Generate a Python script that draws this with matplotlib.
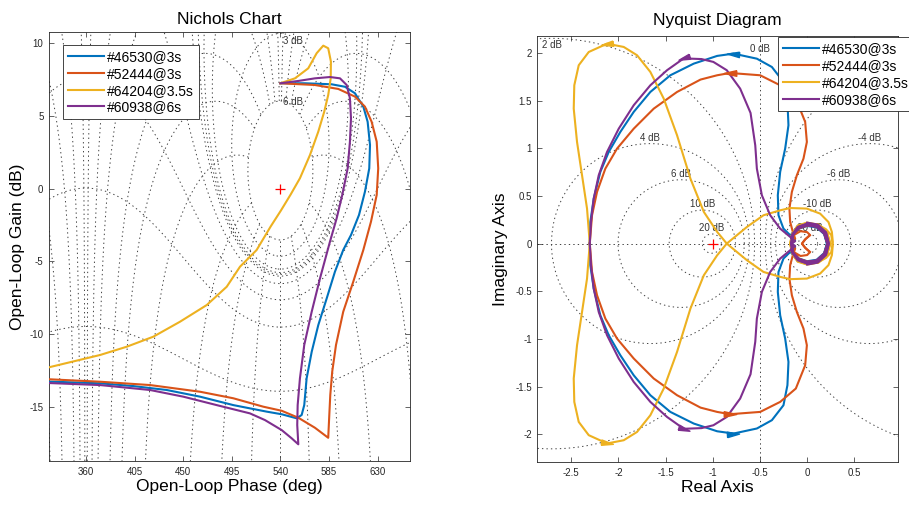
import numpy as np
import matplotlib
matplotlib.use('Agg')
import matplotlib.pyplot as plt

plt.rcParams['font.family'] = ['Liberation Sans', 'DejaVu Sans']
plt.rcParams['axes.unicode_minus'] = False

labels = ['#46530@3s', '#52444@3s', '#64204@3.5s', '#60938@6s']
colors = ['#0072BD', '#D95319', '#EDB120', '#7E2F8E']

# --- Nichols: fase (deg) e ganho (dB) ---
nic_blue_ph = [540, 562.8, 587.5, 599.8, 609.1, 616.8, 620.8, 623.0, 622.3, 618.3, 612.8, 605.4,
               598.2, 590.5, 582.9, 575.1, 569.0, 564.3, 562.1, 559.7, 555.1, 541.2, 527.3, 496.4,
               465.6, 434.7, 403.8, 373.0, 325.5]
nic_blue_db = [7.26, 7.26, 7.19, 7.02, 6.57, 5.65, 4.61, 3.01, 1.40, -0.21, -1.81, -3.19,
               -4.22, -5.72, -7.55, -9.39, -11.23, -13.06, -14.90, -15.58, -15.81, -15.53, -15.35, -14.90,
               -14.32, -13.86, -13.59, -13.40, -13.28]

nic_orange_ph = [540, 572.0, 593.6, 609.1, 618.3, 624.5, 629.2, 630.6, 629.2, 623.9, 616.8, 607.5,
                 598.2, 591.5, 588.0, 586.2, 585.3, 584.3, 572.0, 556.6, 541.2, 524.2, 496.4, 465.6,
                 419.3, 373.0, 325.5]
nic_orange_db = [7.26, 7.14, 6.87, 6.34, 5.65, 4.61, 3.24, 1.40, -0.43, -2.27, -4.22, -6.40,
                 -8.47, -10.76, -12.60, -14.21, -15.58, -17.15, -16.46, -15.77, -15.29, -15.01, -14.43, -13.98,
                 -13.52, -13.29, -13.12]

nic_yellow_ph = [540, 553.5, 565.8, 573.6, 579.7, 584.3, 586.8, 586.6, 584.3, 580.6, 575.1, 567.4,
                 558.1, 549.5, 540.5, 531.0, 518.0, 502.6, 490.3, 471.8, 447.0, 422.3, 397.7, 373.0, 325.5]
nic_yellow_db = [7.26, 7.60, 8.29, 9.33, 9.85, 9.67, 8.75, 7.60, 6.45, 5.30, 3.93, 2.32,
                 0.72, -0.40, -1.50, -2.60, -4.22, -5.37, -6.75, -8.01, -9.16, -10.19, -10.88, -11.45, -12.30]

nic_purple_ph = [540, 556.6, 572.0, 585.9, 595.2, 601.4, 604.4, 605.4, 604.4, 602.3, 597.3, 592.1,
                 585.9, 576.7, 569.0, 562.1, 558.1, 556.0, 555.6, 556.6, 550.5, 541.2, 525.7, 511.8,
                 481.0, 450.1, 419.3, 373.0, 325.5]
nic_purple_db = [7.26, 7.42, 7.60, 7.69, 7.60, 7.14, 6.23, 4.85, 3.24, 1.40, -0.43, -2.04,
                 -3.65, -6.17, -8.47, -10.76, -13.06, -14.90, -16.27, -17.60, -17.19, -16.62, -15.93, -15.47,
                 -14.90, -14.32, -13.86, -13.52, -13.38]

# --- Nyquist: ramo de frequencia positiva (o outro e o conjugado) ---
nyq_blue_re = [-2.304, -2.298, -2.262, -2.192, -2.103, -1.980, -1.838, -1.662, -1.450, -1.202, -0.954,
               -0.781, -0.533, -0.374, -0.251, -0.209, -0.198, -0.233, -0.286, -0.311, -0.304, -0.251,
               -0.180, -0.127, -0.165, -0.150, -0.090, 0.000, 0.100, 0.180, 0.210, 0.180, 0.100, 0.000,
               -0.100, -0.160, -0.175, -0.155, -0.085, 0.010, 0.110, 0.190, 0.225, 0.190, 0.105, 0.000,
               -0.100, -0.165]
nyq_blue_im = [0.0, -0.227, -0.472, -0.752, -0.961, -1.171, -1.381, -1.590, -1.765, -1.887, -1.968,
               -1.992, -1.939, -1.852, -1.695, -1.485, -1.241, -0.996, -0.752, -0.507, -0.298, -0.157,
               -0.088, -0.036, 0.000, 0.085, 0.155, 0.185, 0.170, 0.100, 0.000, -0.110, -0.180, -0.200,
               -0.170, -0.090, 0.000, 0.095, 0.170, 0.200, 0.185, 0.110, 0.000, -0.120, -0.195, -0.215,
               -0.185, -0.100]

nyq_orange_re = [-2.304, -2.280, -2.227, -2.139, -2.015, -1.838, -1.626, -1.379, -1.130, -0.954, -0.817,
                 -0.498, -0.286, -0.120, -0.021, -0.003, -0.039, -0.109, -0.162, -0.188, -0.180, -0.152,
                 -0.127, -0.170, -0.150, -0.085, 0.005, 0.100, 0.180, 0.215, 0.185, 0.105, 0.000, -0.100,
                 -0.155, -0.170, -0.140, -0.070, 0.000, 0.030, -0.020, -0.055, -0.020, 0.030]
nyq_orange_im = [0.0, -0.297, -0.542, -0.786, -0.996, -1.205, -1.415, -1.590, -1.720, -1.765, -1.789,
                 -1.765, -1.660, -1.520, -1.276, -1.066, -0.891, -0.717, -0.542, -0.367, -0.227, -0.123,
                 -0.052, 0.000, 0.090, 0.160, 0.190, 0.180, 0.110, 0.000, -0.110, -0.180, -0.200, -0.170,
                 -0.090, 0.000, 0.090, 0.130, 0.120, 0.090, 0.045, 0.000, -0.045, -0.087]

nyq_yellow_re = [-2.304, -2.333, -2.386, -2.439, -2.474, -2.468, -2.421, -2.315, -2.121, -1.944, -1.803,
                 -1.662, -1.520, -1.379, -1.237, -1.095, -0.954, -0.852, -0.639, -0.463, -0.286, -0.180,
                 -0.003, 0.138, 0.226, 0.262, 0.272, 0.255, 0.200, 0.110, 0.000, -0.100, -0.160, -0.180,
                 -0.160, -0.090, 0.010, 0.120, 0.210, 0.245, 0.210, 0.120, 0.000, -0.100, -0.160, -0.175]
nyq_yellow_im = [0.0, -0.367, -0.717, -1.066, -1.415, -1.660, -1.870, -2.009, -2.096, -2.062, -1.975,
                 -1.800, -1.520, -1.136, -0.681, -0.332, -0.123, 0.000, 0.174, 0.297, 0.349, 0.373,
                 0.367, 0.314, 0.226, 0.122, 0.017, -0.090, -0.150, -0.200, -0.220, -0.190, -0.100, 0.000,
                 0.100, 0.175, 0.210, 0.200, 0.120, 0.000, -0.120, -0.195, -0.210, -0.180, -0.090, 0.000]

nyq_purple_re = [-2.304, -2.291, -2.262, -2.209, -2.121, -1.997, -1.838, -1.662, -1.485, -1.308, -1.120,
                 -0.994, -0.852, -0.710, -0.600, -0.550, -0.533, -0.480, -0.392, -0.286, -0.180, -0.127,
                 -0.165, -0.150, -0.090, 0.000, 0.100, 0.180, 0.215, 0.185, 0.100, 0.000, -0.100, -0.160,
                 -0.170, -0.150, -0.080, 0.020, 0.120, 0.200, 0.230, 0.200, 0.110, 0.000]
nyq_purple_im = [0.0, -0.227, -0.472, -0.717, -0.961, -1.205, -1.451, -1.660, -1.818, -1.942, -1.935,
                 -1.905, -1.818, -1.625, -1.370, -1.030, -0.786, -0.507, -0.298, -0.157, -0.070, -0.025,
                 0.000, 0.090, 0.160, 0.190, 0.175, 0.105, 0.000, -0.115, -0.190, -0.210, -0.175, -0.095,
                 0.000, 0.100, 0.180, 0.210, 0.190, 0.110, 0.000, -0.120, -0.200, -0.220]

nic_data = [(nic_blue_ph, nic_blue_db), (nic_orange_ph, nic_orange_db),
            (nic_yellow_ph, nic_yellow_db), (nic_purple_ph, nic_purple_db)]
nyq_data = [(nyq_blue_re, nyq_blue_im), (nyq_orange_re, nyq_orange_im),
            (nyq_yellow_re, nyq_yellow_im), (nyq_purple_re, nyq_purple_im)]

# niveis da grade
ngrid_db = [-40, -20, -12, -6, -3, -1, 0, 0.25, 0.5, 1, 3, 6]
ngrid_ph = [-180, -150, -120, -90, -50, -30, -20, -10, -5, -1, 1, 5, 10, 20, 30, 50, 90, 120, 150]
nyq_grid_db = [-20, -10, -6, -4, -2, 0, 2, 4, 6, 10, 20]

GRID_C = '0.25'
DOTS = (0, (1.4, 3.2))


def style_axes(ax):
    for s in ax.spines.values():
        s.set_linewidth(0.6)
        s.set_color('0.15')
    ax.tick_params(direction='in', top=True, right=True, length=3.5, width=0.5,
                   labelsize=7, colors='0.15', pad=4)


def nichols_grid(ax):
    ph = np.linspace(300.05, 700.05, 1400)
    gd = np.linspace(-30.03, 20.03, 1000)
    P, G = np.meshgrid(ph, gd)
    L = 10 ** (G / 20) * np.exp(1j * np.deg2rad(P))
    T = L / (1 + L)
    tdb = 20 * np.log10(np.abs(T))
    cs = ax.contour(P, G, tdb, levels=ngrid_db, colors=GRID_C, linewidths=0.7, zorder=1)
    cs.set_linestyle(DOTS)
    ang = np.angle(T)
    for p in ngrid_ph:
        d = ang - np.deg2rad(p)
        # linhas de fase so fora do contorno de 6 dB
        z = np.ma.masked_where((np.cos(d) < 0) | (tdb > 6.0), np.sin(d))
        cs = ax.contour(P, G, z, levels=[0], colors=GRID_C, linewidths=0.7, zorder=1)
        cs.set_linestyle(DOTS)


def arrow_marker(dx, dy):
    a = np.arctan2(dy, dx)
    v = np.array([[-1.0, -0.45], [1.0, 0.0], [-1.0, 0.45], [-1.0, -0.45]])
    R = np.array([[np.cos(a), -np.sin(a)], [np.sin(a), np.cos(a)]])
    return (v @ R.T).tolist()


fig = plt.figure(figsize=(9.09, 5.07), dpi=100)
ax1 = fig.add_axes([0.0539, 0.0907, 0.3971, 0.8456])
ax2 = fig.add_axes([0.5911, 0.0888, 0.3965, 0.8408])

# ---------------- Nichols ----------------
nichols_grid(ax1)
ax1.text(542.5, 10.2, '3 dB', fontsize=7, color='0.2', va='center', ha='left', zorder=2)
ax1.text(542.5, 6.0, '6 dB', fontsize=7, color='0.2', va='center', ha='left', zorder=2)
for (ph, db), c, lab in zip(nic_data, colors, labels):
    ax1.plot(ph, db, color=c, lw=1.5, label=lab, zorder=3, solid_joinstyle='round')
ax1.plot([540], [0], marker='+', color='red', ms=7, mew=0.9, zorder=4)
ax1.set_xlim(325.7, 660)
ax1.set_ylim(-18.75, 10.77)
xt = list(range(360, 631, 45))
ax1.set_xticks(xt)
ax1.set_xticklabels([str(v) for v in xt])
yt = [-15, -10, -5, 0, 5, 10]
ax1.set_yticks(yt)
ax1.set_yticklabels([str(v) for v in yt])
style_axes(ax1)
ax1.set_title('Nichols Chart', fontsize=12.5, pad=6)
ax1.set_xlabel('Open-Loop Phase (deg)', fontsize=12.5, labelpad=2)
ax1.set_ylabel('Open-Loop Gain (dB)', fontsize=12.5, labelpad=3)
leg1 = ax1.legend(loc='upper left', bbox_to_anchor=(0.0396, 0.97), fontsize=10,
                  handlelength=2.6, handletextpad=0.2, labelspacing=0.2, borderpad=0.35,
                  borderaxespad=0, fancybox=False, framealpha=1, edgecolor='0.15')
leg1.get_frame().set_linewidth(0.6)

# ---------------- Nyquist ----------------
xl = (-2.86, 0.96)
yl = (-2.29, 2.18)
t = np.linspace(0, 2 * np.pi, 600)
for db in nyq_grid_db:
    if db == 0:
        ax2.plot([-0.5, -0.5], yl, color=GRID_C, lw=0.7, ls=DOTS, zorder=1)
        ax2.text(-0.5, 1.99, '0 dB', fontsize=7, color='0.2', ha='center', va='bottom', zorder=2)
        continue
    M = 10 ** (db / 20)
    cx = -M ** 2 / (M ** 2 - 1)
    r = abs(M / (M ** 2 - 1))
    ax2.plot(cx + r * np.cos(t), r * np.sin(t), color=GRID_C, lw=0.7, ls=DOTS, zorder=1)
    if xl[0] < cx < xl[1]:
        if r > yl[1] - 0.1:
            ax2.text(cx, r - 0.02, f'{db} dB', fontsize=7, color='0.2', ha='center', va='top', zorder=2)
        else:
            ax2.text(cx, r + 0.01, f'{db} dB', fontsize=7, color='0.2', ha='center', va='bottom', zorder=2)
ax2.plot(xl, [0, 0], color=GRID_C, lw=0.7, ls=DOTS, zorder=1)

for (re, im), c, lab in zip(nyq_data, colors, labels):
    re = np.array(re)
    im = np.array(im)
    ax2.plot(re, im, color=c, lw=1.5, label=lab, zorder=3, solid_joinstyle='round')
    ax2.plot(re, -im, color=c, lw=1.5, zorder=3, solid_joinstyle='round')
    k = int(np.argmin(im))
    dx, dy = re[k + 1] - re[k - 1], im[k + 1] - im[k - 1]
    ax2.plot(re[k], im[k], marker=arrow_marker(dx, dy), ms=9, color=c, mec=c, zorder=4)
    ax2.plot(re[k], -im[k], marker=arrow_marker(-dx, dy), ms=9, color=c, mec=c, zorder=4)
ax2.plot([-1], [0], marker='+', color='red', ms=7, mew=0.9, zorder=4)

ax2.set_xlim(*xl)
ax2.set_ylim(*yl)
xt2 = [-2.5, -2, -1.5, -1, -0.5, 0, 0.5]
ax2.set_xticks(xt2)
ax2.set_xticklabels([f'{v:g}' for v in xt2])
yt2 = [-2, -1.5, -1, -0.5, 0, 0.5, 1, 1.5, 2]
ax2.set_yticks(yt2)
ax2.set_yticklabels([f'{v:g}' for v in yt2])
style_axes(ax2)
ax2.set_title('Nyquist Diagram', fontsize=12.5, pad=8)
ax2.set_xlabel('Real Axis', fontsize=12.5, labelpad=2)
ax2.set_ylabel('Imaginary Axis', fontsize=12.5, labelpad=5)
leg2 = ax2.legend(loc='upper left', bbox_to_anchor=(0.669, 0.996), fontsize=10,
                  handlelength=2.6, handletextpad=0.2, labelspacing=0.2, borderpad=0.35,
                  borderaxespad=0, fancybox=False, framealpha=1, edgecolor='0.15')
leg2.get_frame().set_linewidth(0.6)
leg2.set_zorder(10)

fig.savefig('out.png', dpi=100)
